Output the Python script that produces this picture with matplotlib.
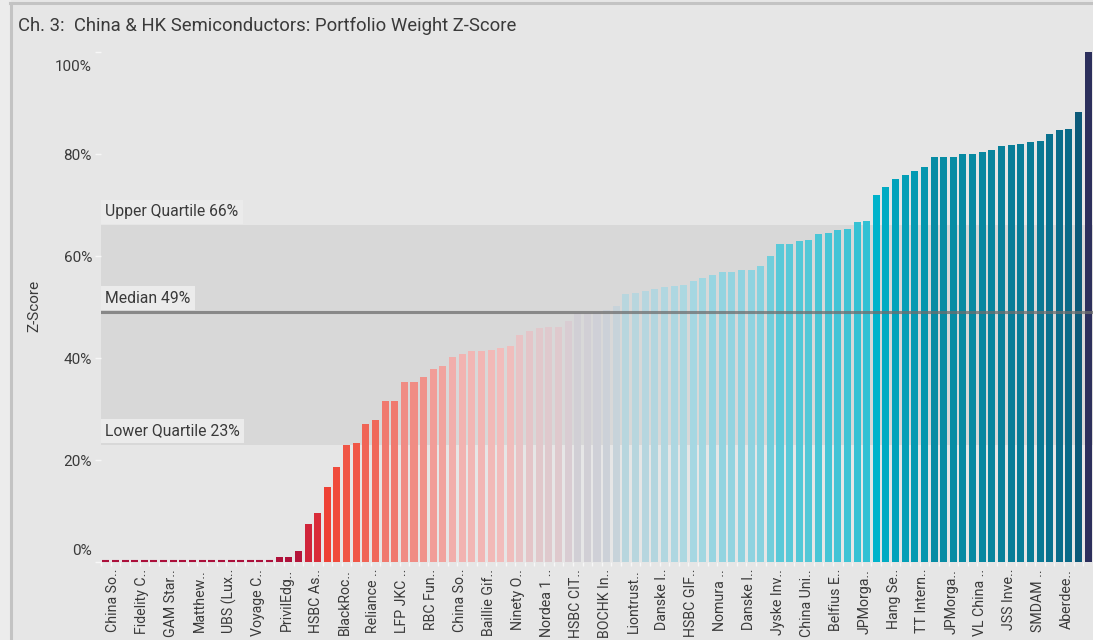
import matplotlib
matplotlib.use("Agg")
import matplotlib.pyplot as plt
import matplotlib.transforms as mtransforms
from matplotlib.colors import LinearSegmentedColormap, to_rgb
import numpy as np

plt.rcParams['font.family'] = ['Roboto', 'DejaVu Sans']

# Portfolio weight z-score per fund (percent), sorted ascending
zscores = [0.0] * 18 + [
    1.0, 1.0, 2.2, 7.5, 9.6, 14.7, 18.6, 22.9, 23.3, 27.1,
    27.8, 31.6, 31.6, 35.3, 35.3, 36.3, 37.8, 38.4, 40.2, 40.8,
    41.4, 41.4, 41.6, 42.0, 42.4, 44.5, 45.3, 45.9, 46.1, 46.1,
    47.3, 48.8, 48.8, 49.0, 49.4, 50.2, 52.5, 52.7, 53.1, 53.5,
    53.9, 54.1, 54.3, 55.1, 55.7, 56.3, 56.9, 56.9, 57.3, 57.3,
    58.0, 60.0, 62.4, 62.4, 63.0, 63.1, 64.3, 64.5, 65.1, 65.3,
    66.7, 66.9, 72.0, 73.5, 75.1, 75.9, 76.7, 77.5, 79.4, 79.4,
    79.4, 80.0, 80.0, 80.4, 80.8, 81.6, 81.8, 82.0, 82.4, 82.5,
    83.9, 84.7, 84.9, 88.2, 100.0,
]

# Fund names shown on the axis (every third fund)
fund_labels = [
    "China So..", "Fidelity C..", "GAM Star..", "Matthew..", "UBS (Lux..",
    "Voyage C..", "PrivilEdg..", "HSBC As..", "BlackRoc..", "Reliance ..",
    "LFP JKC ..", "RBC Fun..", "China So..", "Baillie Gif..", "Ninety O..",
    "Nordea 1 ..", "HSBC CIT..", "BOCHK In..", "Liontrust..", "Danske I..",
    "HSBC GIF..", "Nomura ..", "Danske I..", "Jyske Inv..", "China Uni..",
    "Belfius E..", "JPMorga..", "Hang Se..", "TT Intern..", "JPMorga..",
    "VL China ..", "JSS Inve..", "SMDAM ..", "Aberdee..",
]
label_step = 3

lower_quartile = 23
median = 49
upper_quartile = 66

y_ticks = [0, 20, 40, 60, 80, 100]

# Diverging colour scale keyed on the z-score value
color_stops = [
    (0, "#ab0f3a"), (8, "#d3263a"), (15, "#f04335"), (25, "#f05a4a"),
    (35, "#f08a82"), (42, "#f2bcbb"), (47, "#dccbd0"), (50, "#c8d3da"),
    (55, "#a9d8e2"), (58, "#86d2df"), (62, "#5ccad8"), (67, "#33c1d4"),
    (72, "#00b4cc"), (80, "#078aa2"), (85, "#0a6a88"), (89, "#0c5676"),
    (100, "#2c2f5c"),
]
cmap = LinearSegmentedColormap.from_list(
    "zscore", [(v / 100.0, to_rgb(c)) for v, c in color_stops])

W, H = 1093, 640
fig = plt.figure(figsize=(W / 100, H / 100), dpi=100)
fig.patch.set_facecolor("#e6e6e6")

# panel frame (left and top edges)
fig.add_artist(plt.Rectangle((0, 0), 9.5 / W, 1, color="#ececec",
                             transform=fig.transFigure, zorder=-1))
fig.add_artist(plt.Line2D([10.5 / W, 10.5 / W], [0, 1 - 3 / H], color="#c3c3c3",
                          lw=2.2, transform=fig.transFigure))
fig.add_artist(plt.Line2D([10 / W, 1], [1 - 3 / H, 1 - 3 / H], color="#c3c3c3",
                          lw=2.2, transform=fig.transFigure))

fig.text(18 / W, 1 - 26 / H, "Ch. 3:  China & HK Semiconductors: Portfolio Weight Z-Score",
         fontsize=13.3, color="#3a3a3a", va="center", ha="left")

ax = fig.add_axes([101 / W, (H - 562) / H, (W - 101) / W, (562 - 50) / H])
ax.set_facecolor("#e6e6e6")

n = len(zscores)
x = np.arange(n)
colors = [cmap(v / 100.0) for v in zscores]
bar_w = 0.73

ax.axhspan(lower_quartile, upper_quartile, color="#d8d8d8", zorder=0, lw=0)
ax.bar(x, zscores, width=bar_w, color=colors, linewidth=0, zorder=2)
# funds sitting at zero are shown as a thin stroke on the baseline
for xi, v, c in zip(x, zscores, colors):
    if v == 0:
        ax.hlines(0.2, xi - bar_w / 2, xi + bar_w / 2, color=c, lw=1.5,
                  zorder=2, clip_on=False)
ax.axhline(median, color="#6e6e6e", lw=2.2, alpha=0.75, zorder=3)

box = dict(boxstyle="square,pad=0.28", facecolor="#ebebeb", edgecolor="none")
for val, txt in [(upper_quartile, f"Upper Quartile {upper_quartile}%"),
                 (median, f"Median {median}%"),
                 (lower_quartile, f"Lower Quartile {lower_quartile}%")]:
    ax.annotate(txt, xy=(0, val), xycoords=("axes fraction", "data"),
                xytext=(3, 4.5), textcoords="offset points", fontsize=11.3,
                color="#3a3a3a", ha="left", va="bottom", bbox=box, zorder=5)

ax.set_xlim(-0.5, n - 0.5)
ax.set_ylim(0, 100.4)

ax.set_yticks(y_ticks)
ax.set_yticklabels([f"{t}%" for t in y_ticks])
ax.tick_params(axis="y", length=4, width=1, color="#f7f7f7", labelcolor="#3a3a3a",
               labelsize=11, pad=2.5)
ylabels = ax.get_yticklabels()
ylabels[0].set_transform(ylabels[0].get_transform() +
                         mtransforms.ScaledTranslation(0, 9 / 72, fig.dpi_scale_trans))
ylabels[-1].set_transform(ylabels[-1].get_transform() +
                          mtransforms.ScaledTranslation(0, -10 / 72, fig.dpi_scale_trans))

tick_pos = x[::label_step][:len(fund_labels)]
ax.set_xticks(tick_pos)
ax.set_xticklabels(fund_labels, rotation=90, ha="center", va="top",
                   family=["Liberation Sans Narrow", "Roboto", "DejaVu Sans"])
ax.tick_params(axis="x", length=0, labelcolor="#3a3a3a", labelsize=10.2, pad=5)
shift = mtransforms.ScaledTranslation(5.5 / 72, 0, fig.dpi_scale_trans)
for lbl in ax.get_xticklabels():
    lbl.set_transform(lbl.get_transform() + shift)
ax.set_xticks(np.arange(n + 1) - 0.5, minor=True)
ax.tick_params(axis="x", which="minor", length=3, width=1, color="#f7f7f7")

for s in ax.spines.values():
    s.set_visible(False)

ax.set_ylabel("Z-Score", fontsize=11, color="#3a3a3a", labelpad=10)

fig.savefig("out.png", dpi=100, facecolor=fig.get_facecolor())
